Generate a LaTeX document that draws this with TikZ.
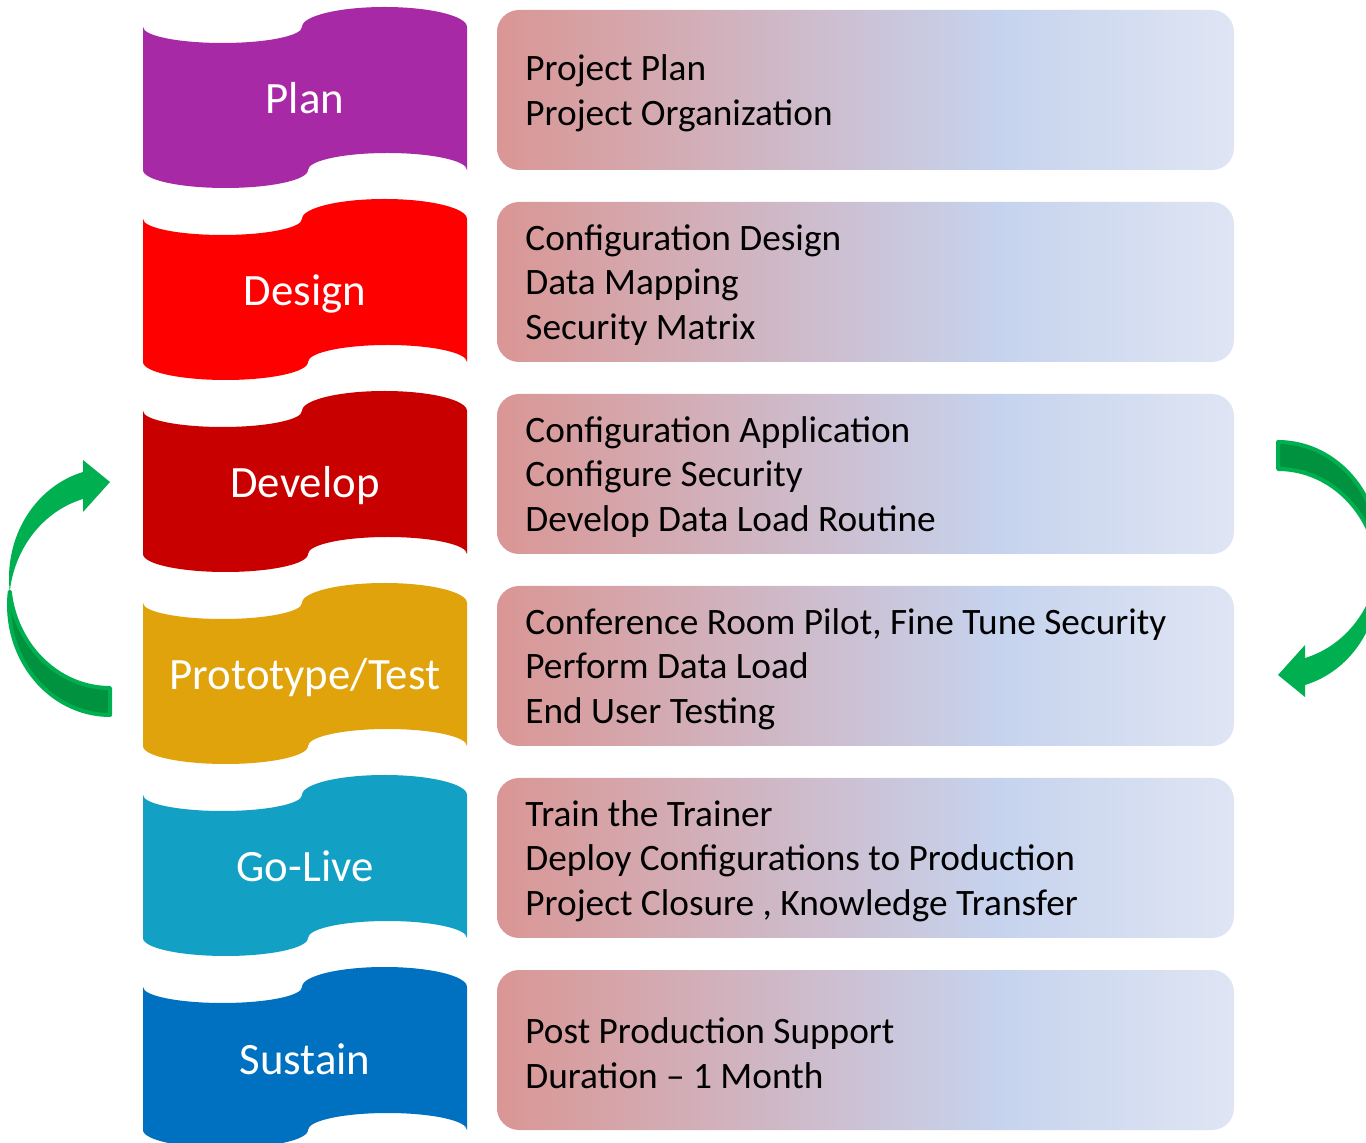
\documentclass[tikz,border=0pt]{standalone}
\usepackage{fontspec}
\setmainfont{Carlito}
\definecolor{cPlan}{RGB}{167,41,165}
\definecolor{cDesign}{RGB}{255,0,0}
\definecolor{cDevelop}{RGB}{201,0,0}
\definecolor{cProto}{RGB}{225,163,11}
\definecolor{cGoLive}{RGB}{18,161,196}
\definecolor{cSustain}{RGB}{0,112,192}
\definecolor{gLight}{RGB}{0,176,80}
\definecolor{gDark}{RGB}{0,146,62}
\definecolor{bA}{RGB}{218,150,148}
\definecolor{bB}{RGB}{198,211,238}
\definecolor{bC}{RGB}{223,229,243}
\pgfdeclarehorizontalshading{boxshade}{100bp}{color(0bp)=(bA); color(25bp)=(bA); color(59bp)=(bB); color(75bp)=(bC); color(100bp)=(bC)}
\newcommand\greenarrow{%
  \filldraw[fill=gDark, draw=gLight, line width=2pt, line join=round]
    plot[domain=172.95:90, samples=40] ({110+101*cos(\x)},{578+110*sin(\x)})
    -- plot[domain=90:187.05, samples=40] ({110+101*cos(\x)},{605+110*sin(\x)}) -- cycle;
  \fill[gLight]
    plot[domain=257:172.95, samples=50] ({110+101*cos(\x)},{578+110*sin(\x)})
    -- plot[domain=187.05:257, samples=50] ({110+101*cos(\x)},{605+110*sin(\x)}) -- cycle;
  \fill[gLight, line join=round] (83,460) -- (110,482) -- (83,512) -- cycle;
}
\tikzset{
  bannertext/.style={anchor=base, text=white, inner sep=0pt, font=\fontsize{22.4}{27}\selectfont},
  boxtext/.style={anchor=west, align=left, text=black, inner sep=0pt, font=\fontsize{18.65}{22.3}\selectfont},
  infobox/.style={shading=boxshade, rounded corners=11pt},
}
\begin{document}
\begin{tikzpicture}[x=0.5pt, y=-0.5pt]
\useasboundingbox (0,0) rectangle (1366,1143);
\clip (0,0) rectangle (1366,1143);
\foreach \i/\col/\lab in {0/cPlan/Plan, 1/cDesign/Design, 2/cDevelop/Develop, 3/cProto/Prototype\slash Test, 4/cGoLive/Go-Live, 5/cSustain/Sustain}{
  \begin{scope}[shift={(0,192*\i)}]
    \fill[\col] (143,27) arc[start angle=180, end angle=0, x radius=79.5, y radius=16]
      arc[start angle=180, end angle=360, x radius=82.5, y radius=20]
      -- (467,170) arc[start angle=0, end angle=-180, x radius=79.5, y radius=17]
      arc[start angle=0, end angle=180, x radius=82.5, y radius=18] -- cycle;
    \node[bannertext] (b\i) at (305,114) {\lab};
    \shade[infobox] (497,10) rectangle (1234,170);
  \end{scope}
}
\node[boxtext] (t0) at (525,93) {Project Plan\\Project Organization};
\node[boxtext] (t1) at (525,285) {Configuration Design\\Data Mapping\\Security Matrix};
\node[boxtext] (t2) at (525,477) {Configuration Application\\Configure Security\\Develop Data Load Routine};
\node[boxtext] (t3) at (525,669) {Conference Room Pilot, Fine Tune Security\\Perform Data Load\\End User Testing};
\node[boxtext] (t4) at (525,861) {Train the Trainer\\Deploy Configurations to Production\\Project Closure , Knowledge Transfer};
\node[boxtext] (t5) at (525,1053) {Post Production Support\\Duration – 1 Month};
\greenarrow
\begin{scope}[rotate around={180:(694,578.5)}]
\greenarrow
\end{scope}
\end{tikzpicture}
\end{document}
